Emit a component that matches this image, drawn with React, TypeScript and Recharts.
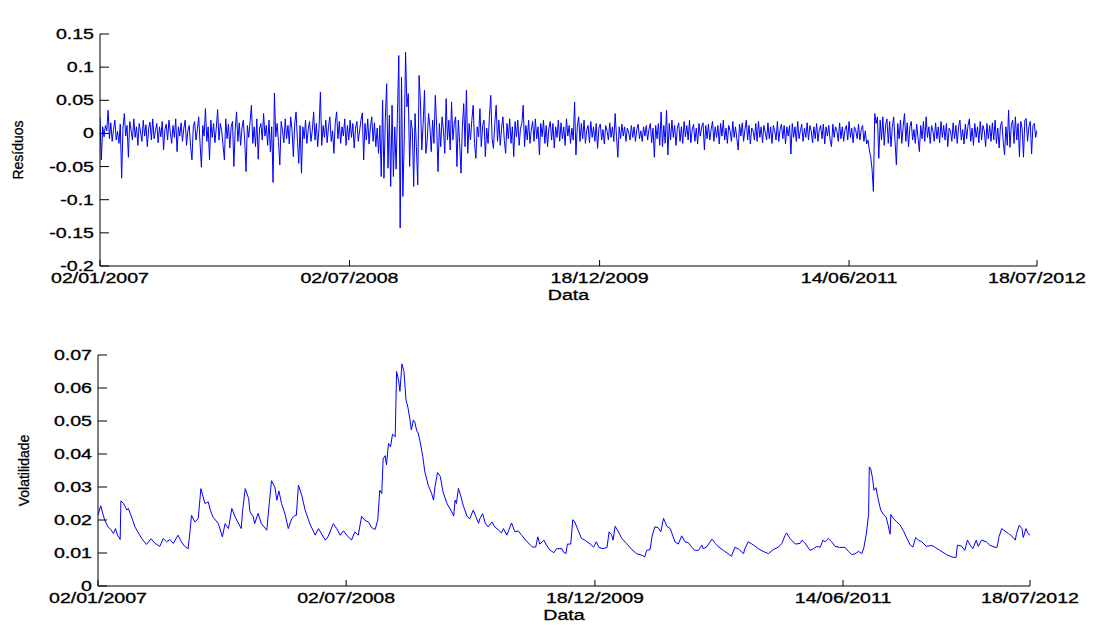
import { Label, Line, LineChart, XAxis, YAxis } from 'recharts'

// Texto no estilo das figuras do MATLAB: Helvetica esticada na horizontal.
const FONT = "'Liberation Sans', Arial, Helvetica, sans-serif"
const STRETCH = 1.4
const BLUE = '#0000ff'

// Eixo x em dias úteis (índice da observação), rótulos em datas.
const dateTicks = [0, 369, 739, 1108, 1386]
const dateLabels = ['02/01/2007', '02/07/2008', '18/12/2009', '14/06/2011', '18/07/2012']

const residTicks = [-0.2, -0.15, -0.1, -0.05, 0, 0.05, 0.1, 0.15]
const volTicks = [0, 0.01, 0.02, 0.03, 0.04, 0.05, 0.06, 0.07]

// Resíduos filtrados, um valor a cada 2 dias úteis.
const residStep = 2
const residValues = [
  0.024, -0.04, 0.01, -0.005, 0.012, 0.004, 0.035, -0.008, 0.016, -0.012,
  0.006, 0.02, -0.01, 0.003, -0.015, 0.014, -0.0675, 0.008, 0.03, -0.004,
  0.012, -0.036, 0.018, 0.005, -0.01, 0.022, -0.006, 0.01, -0.018, 0.015,
  0.002, -0.012, 0.02, -0.004, 0.013, -0.02, 0.008, 0.017, -0.01, 0.022,
  -0.008, 0.004, 0.015, -0.014, 0.01, -0.005, 0.018, -0.025, 0.006, 0.014,
  -0.01, 0.02, 0.002, -0.015, 0.012, -0.006, 0.022, -0.0275, 0.01, -0.004,
  0.016, -0.012, 0.008, 0.02, -0.018, 0.004, 0.012, -0.02, -0.04, 0.01,
  0.018, -0.01, 0.006, 0.025, -0.015, -0.051, 0.012, -0.004, 0.0375, -0.012,
  0.01, -0.04, 0.02, -0.006, 0.015, -0.014, 0.008, 0.036, -0.01, 0.015,
  0.004, -0.018, -0.04, 0.022, -0.008, 0.014, -0.022, 0.01, 0.018, -0.05,
  0.006, 0.0325, -0.012, 0.016, -0.018, 0.008, 0.02, -0.01, -0.0575, 0.012,
  -0.006, 0.018, 0.0425, -0.015, 0.01, -0.02, 0.022, -0.039, 0.008, 0.015,
  -0.01, 0.03, -0.004, 0.012, -0.018, 0.02, -0.0275, 0.01, -0.074, 0.061,
  -0.005, 0.015, -0.012, -0.0475, 0.018, 0.004, -0.014, 0.022, -0.008, 0.012,
  -0.016, 0.025, 0.006, -0.035, 0.014, 0.0325, -0.01, -0.045, 0.012, -0.06,
  0.01, -0.008, 0.02, -0.015, 0.006, 0.018, -0.012, 0.004, 0.0325, -0.01,
  0.015, -0.02, 0.008, 0.0625, -0.018, 0.012, -0.006, 0.02, -0.014, 0.01,
  0.025, -0.012, 0.004, -0.03, 0.016, 0.0325, -0.008, 0.018, -0.015, 0.01,
  -0.004, 0.022, -0.018, 0.012, -0.01, 0.02, -0.006, 0.015, -0.022, 0.008,
  0.018, -0.012, 0.004, 0.02, 0.031, -0.04, 0.015, -0.01, 0.022, -0.016,
  0.01, 0.025, -0.012, 0.016, -0.02, 0.008, -0.03, 0.012, -0.065, 0.05,
  -0.0675, 0.02, 0.075, -0.0525, 0.0275, -0.08, 0.0425, -0.065, 0.01, -0.054,
  0.03, 0.1175, -0.1425, 0.085, -0.095, -0.01, 0.1225, 0.04, 0.06, -0.05,
  0.02, 0.005, -0.08, 0.03, -0.02, -0.0775, 0.0875, 0.0475, -0.025, 0.015,
  0.065, -0.03, -0.01, 0.03, 0.01, -0.0275, 0.02, -0.015, 0.0575, 0.01,
  -0.0575, 0.015, -0.02, 0.025, 0.005, -0.03, 0.0525, -0.01, 0.02, -0.025,
  0.0475, -0.01, 0.015, 0.025, -0.05, 0.02, -0.015, -0.06, 0.01, 0.045,
  -0.02, 0.065, -0.03, 0.015, -0.01, 0.02, 0.0425, -0.015, -0.0375, 0.01,
  -0.005, 0.0375, -0.02, 0.012, 0.02, -0.035, 0.008, -0.015, 0.025, 0.0575,
  -0.008, -0.0225, 0.015, 0.0425, -0.012, 0.02, -0.018, 0.008, 0.025, -0.01,
  -0.03, 0.015, -0.008, 0.022, -0.015, 0.01, -0.035, 0.018, -0.005, 0.02,
  -0.018, 0.008, 0.015, 0.0425, -0.02, 0.012, -0.01, 0.02, -0.015, 0.006,
  0.018, -0.012, 0.022, -0.008, 0.01, -0.0325, 0.015, -0.005, 0.02, -0.015,
  0.012, -0.02, 0.008, 0.018, -0.01, 0.015, -0.022, 0.01, -0.006, 0.02,
  -0.012, 0.016, -0.008, 0.01, -0.018, 0.022, -0.004, 0.012, -0.015, 0.008,
  -0.01, 0.0475, -0.0325, 0.01, 0.025, -0.012, 0.015, -0.008, 0.02, -0.015,
  0.005, 0.012, -0.014, 0.018, -0.006, 0.01, -0.012, 0.015, -0.0225, 0.008,
  0.014, -0.01, 0.006, -0.016, 0.012, 0.004, -0.01, 0.016, -0.006, 0.01,
  -0.012, 0.03, -0.005, -0.036, 0.01, -0.008, 0.014, -0.004, 0.01, -0.012,
  0.008, 0.002, -0.01, 0.012, -0.006, 0.01, -0.012, 0.006, 0.014, -0.008,
  0.004, -0.012, 0.01, -0.004, 0.012, -0.01, 0.006, 0.015, -0.014, 0.008,
  -0.036, 0.012, -0.008, 0.015, -0.018, 0.0325, -0.02, 0.012, -0.015, 0.035,
  -0.0325, 0.015, -0.01, 0.02, -0.006, 0.012, -0.018, 0.008, 0.016, -0.012,
  0.01, -0.015, 0.018, -0.005, 0.012, -0.01, 0.02, -0.014, 0.006, 0.014,
  -0.012, 0.008, -0.016, 0.015, -0.004, 0.01, 0.016, -0.025, 0.012, -0.008,
  0.014, -0.01, 0.006, 0.018, -0.012, 0.01, -0.006, 0.012, -0.016, 0.015,
  -0.004, 0.02, -0.01, 0.008, -0.015, 0.012, 0.004, -0.012, 0.018, -0.006,
  0.01, -0.008, -0.025, 0.014, -0.004, 0.016, -0.012, 0.006, 0.02, -0.01,
  0.012, -0.016, 0.008, 0.004, -0.01, 0.015, -0.012, 0.018, -0.006, 0.01,
  -0.014, 0.012, 0.002, -0.01, 0.016, -0.008, 0.01, -0.015, 0.012, 0.004,
  -0.01, 0.018, -0.012, 0.006, 0.014, -0.008, 0.012, -0.016, 0.01, -0.004,
  0.012, -0.031, 0.015, -0.006, 0.01, -0.012, 0.018, -0.008, 0.004, 0.014,
  -0.012, 0.008, -0.006, 0.016, -0.01, 0.012, 0.004, -0.014, 0.01, -0.008,
  0.015, -0.012, 0.006, 0.012, -0.008, 0.014, -0.016, 0.01, -0.004, 0.012,
  -0.01, -0.02, 0.014, -0.006, 0.01, 0.004, -0.012, 0.016, -0.008, 0.01,
  -0.012, 0.006, 0.012, -0.01, 0.018, -0.006, 0.008, -0.014, 0.01, 0.004,
  -0.008, 0.014, -0.01, 0.006, 0.012, -0.012, 0.004, -0.016, -0.01, -0.025,
  -0.035, -0.054, -0.0875, 0.03, 0.015, 0.025, -0.0375, 0.02, -0.01, 0.025,
  -0.018, 0.012, 0.022, -0.015, 0.018, -0.02, 0.01, 0.025, -0.012, -0.0475,
  0.015, -0.008, 0.02, -0.015, 0.01, 0.03, -0.012, 0.016, -0.02, 0.01,
  0.018, -0.01, 0.006, -0.015, 0.014, -0.006, -0.0275, 0.012, -0.008, 0.018,
  -0.012, 0.025, -0.006, 0.01, -0.015, 0.012, 0.004, -0.012, 0.016, -0.008,
  0.01, -0.014, 0.018, -0.006, 0.012, -0.01, 0.015, -0.02, 0.008, 0.004,
  -0.012, 0.016, -0.008, 0.012, -0.015, 0.01, 0.02, -0.01, 0.006, -0.016,
  0.014, -0.008, 0.012, 0.022, -0.012, 0.008, -0.018, 0.015, -0.006, 0.01,
  -0.014, 0.018, -0.01, 0.012, 0.004, -0.02, 0.015, -0.008, 0.012, -0.012,
  0.016, -0.01, 0.02, -0.015, 0.008, -0.022, 0.012, 0.018, -0.012, -0.0325,
  0.01, -0.018, 0.035, -0.021, 0.012, 0.02, -0.015, 0.025, -0.01, 0.015,
  -0.035, 0.018, 0.008, -0.036, 0.02, 0.0225, -0.012, 0.01, 0.018, -0.031,
  0.012, 0.015, -0.006, 0.005,
]

// Desvio padrão condicional: dia útil e valor de cada vértice.
const volDays = [
  0, 4, 10, 15, 19, 23, 26, 29, 33, 34, 38, 43, 45, 50, 55, 60, 65, 72, 79, 85,
  92, 97, 102, 107, 112, 119, 124, 129, 134, 137, 139, 144, 149, 153, 159, 164, 167, 171, 179, 185,
  189, 194, 199, 204, 213, 215, 219, 224, 226, 231, 233, 238, 243, 251, 253, 258, 263, 266, 269, 273,
  278, 283, 288, 293, 295, 298, 303, 308, 315, 323, 328, 338, 342, 350, 355, 360, 365, 370, 377, 382,
  387, 392, 397, 402, 407, 412, 416, 419, 422, 424, 427, 429, 432, 435, 438, 442, 444, 447, 449, 452,
  455, 458, 461, 464, 466, 469, 471, 474, 476, 479, 483, 486, 491, 496, 499, 501, 505, 509, 513, 519,
  526, 529, 531, 533, 536, 539, 543, 549, 553, 558, 562, 566, 568, 572, 576, 580, 586, 590, 595, 600,
  603, 608, 615, 620, 625, 630, 638, 646, 651, 654, 657, 663, 667, 672, 678, 682, 690, 692, 696, 698,
  703, 706, 709, 714, 719, 724, 732, 737, 741, 745, 751, 757, 760, 764, 766, 769, 774, 779, 786, 794,
  801, 809, 813, 816, 821, 824, 828, 833, 837, 841, 846, 851, 858, 863, 868, 873, 878, 883, 888, 893,
  898, 900, 905, 913, 918, 922, 930, 937, 942, 947, 952, 960, 962, 967, 975, 982, 989, 997, 1004, 1012,
  1017, 1022, 1024, 1029, 1037, 1044, 1047, 1051, 1059, 1064, 1069, 1074, 1078, 1081, 1086, 1091, 1096, 1103, 1111, 1116,
  1121, 1126, 1131, 1136, 1139, 1143, 1146, 1147, 1149, 1152, 1154, 1157, 1160, 1164, 1168, 1172, 1175, 1178, 1179, 1183,
  1188, 1193, 1198, 1203, 1208, 1212, 1216, 1220, 1225, 1232, 1240, 1245, 1252, 1262, 1270, 1276, 1278, 1284, 1289, 1293,
  1297, 1301, 1306, 1309, 1314, 1321, 1326, 1334, 1337, 1340, 1344, 1349, 1354, 1359, 1364, 1366, 1370, 1374, 1376, 1380,
  1383, 1386,
]
const volValues = [
  0.0215, 0.0243, 0.0199, 0.0179, 0.0171, 0.0159, 0.0174, 0.0154, 0.0141, 0.0258, 0.025, 0.023, 0.0235, 0.0209, 0.0179, 0.0161, 0.0144, 0.0126, 0.0143, 0.0129,
  0.012, 0.0144, 0.0134, 0.0141, 0.0129, 0.0154, 0.0134, 0.012, 0.0113, 0.0169, 0.0214, 0.0194, 0.0204, 0.0295, 0.025, 0.0255, 0.023, 0.0209, 0.0189, 0.0149,
  0.0189, 0.0174, 0.0235, 0.0209, 0.0174, 0.0228, 0.0295, 0.0265, 0.0225, 0.0209, 0.0189, 0.022, 0.0189, 0.0169, 0.0214, 0.0319, 0.03, 0.026, 0.0288, 0.025,
  0.0219, 0.0174, 0.0204, 0.0214, 0.0214, 0.0306, 0.0275, 0.023, 0.0189, 0.0154, 0.0174, 0.0139, 0.0149, 0.0189, 0.0174, 0.0154, 0.0167, 0.0154, 0.0139, 0.0164,
  0.0154, 0.0211, 0.0199, 0.0194, 0.0177, 0.0171, 0.0199, 0.029, 0.028, 0.0385, 0.0395, 0.0367, 0.0432, 0.0422, 0.046, 0.0452, 0.065, 0.0624, 0.059, 0.0673,
  0.065, 0.0564, 0.054, 0.0503, 0.0473, 0.0503, 0.0498, 0.047, 0.0464, 0.0437, 0.0392, 0.0346, 0.0306, 0.0281, 0.026, 0.03, 0.0344, 0.0332, 0.0286, 0.025,
  0.0225, 0.0212, 0.026, 0.025, 0.0296, 0.0276, 0.0245, 0.021, 0.0204, 0.023, 0.021, 0.019, 0.0205, 0.0219, 0.019, 0.0179, 0.0194, 0.0179, 0.0171, 0.0161,
  0.0174, 0.0154, 0.0191, 0.0164, 0.0167, 0.0154, 0.0134, 0.0118, 0.0118, 0.0149, 0.0127, 0.0139, 0.0124, 0.0109, 0.0101, 0.0113, 0.0113, 0.0103, 0.0098, 0.0127,
  0.0127, 0.0201, 0.0194, 0.0169, 0.0144, 0.0139, 0.0127, 0.0118, 0.0134, 0.0117, 0.0113, 0.0117, 0.0164, 0.0154, 0.0139, 0.0181, 0.0164, 0.0144, 0.0129, 0.011,
  0.0098, 0.0093, 0.0088, 0.0108, 0.011, 0.0151, 0.0179, 0.0177, 0.0164, 0.0205, 0.0181, 0.0174, 0.0134, 0.0127, 0.0152, 0.0134, 0.0131, 0.0117, 0.0108, 0.0108,
  0.0124, 0.0113, 0.0118, 0.0142, 0.0129, 0.012, 0.0108, 0.0098, 0.009, 0.0117, 0.0113, 0.0098, 0.0113, 0.0134, 0.0124, 0.0113, 0.0105, 0.0098, 0.011, 0.0118,
  0.0129, 0.0154, 0.0161, 0.0144, 0.0127, 0.0129, 0.0139, 0.0131, 0.0108, 0.0113, 0.012, 0.0117, 0.0139, 0.0134, 0.0144, 0.0134, 0.012, 0.0117, 0.0117, 0.0105,
  0.0095, 0.0098, 0.0105, 0.0098, 0.0117, 0.0164, 0.0219, 0.0361, 0.0356, 0.0325, 0.029, 0.0298, 0.0265, 0.023, 0.0217, 0.0209, 0.0184, 0.0157, 0.0217, 0.0204,
  0.0194, 0.0184, 0.0166, 0.0144, 0.0124, 0.0118, 0.0147, 0.0139, 0.0134, 0.012, 0.0123, 0.0117, 0.0108, 0.0095, 0.0088, 0.0086, 0.0124, 0.0121, 0.0108, 0.0139,
  0.0124, 0.0113, 0.0139, 0.012, 0.0139, 0.0134, 0.0124, 0.0117, 0.0117, 0.015, 0.0174, 0.0166, 0.0159, 0.0151, 0.0139, 0.0159, 0.0184, 0.0174, 0.0147, 0.0174,
  0.0159, 0.0154,
]

const residData = residValues.map((v, i) => ({ day: i * residStep, v }))
const volData = volDays.map((day, i) => ({ day, v: volValues[i] }))

function Txt({ x, y, anchor = 'middle', sx = STRETCH, rotate = false, children }: any) {
  const transform = `translate(${x},${y}) scale(${sx},1)` + (rotate ? ' rotate(-90)' : '')
  return (
    <text
      transform={transform}
      textAnchor={anchor}
      fontFamily={FONT}
      fontSize={14}
      fill="#000"
      stroke="#000"
      strokeWidth={0.3}
    >
      {children}
    </text>
  )
}

interface PanelProps {
  data: { day: number; v: number }[]
  yTicks: number[]
  title: string
  yLabel: string
  yLabelX: number
  height: number
  margin: { top: number; right: number; bottom: number; left: number }
}

// Um subplot: caixa fechada, marcas para dentro nos quatro lados.
function Panel({ data, yTicks, title, yLabel, yLabelX, height, margin }: PanelProps) {
  const yDomain = [yTicks[0], yTicks[yTicks.length - 1]]
  const xDomain = [dateTicks[0], dateTicks[dateTicks.length - 1]]
  return (
    <LineChart width={1095} height={height} data={data} margin={margin}>
      <XAxis
        xAxisId="b"
        dataKey="day"
        type="number"
        domain={xDomain}
        ticks={dateTicks}
        interval={0}
        allowDataOverflow
        height={30}
        stroke="#000"
        tickSize={-6}
        tickMargin={6}
        tick={({ x, y, payload }: any) => (
          <Txt x={x} y={y + 17}>
            {dateLabels[dateTicks.indexOf(payload.value)]}
          </Txt>
        )}
      >
        <Label
          content={({ viewBox }: any) => (
            <Txt x={viewBox.x + viewBox.width / 2} y={viewBox.y + 34}>
              Data
            </Txt>
          )}
        />
      </XAxis>
      <XAxis
        xAxisId="t"
        orientation="top"
        type="number"
        domain={xDomain}
        ticks={dateTicks}
        interval={0}
        allowDataOverflow
        height={0}
        stroke="#000"
        tickSize={-6}
        tick={() => null}
      >
        <Label
          content={({ viewBox }: any) => (
            <Txt x={viewBox.x + viewBox.width / 2} y={viewBox.y + viewBox.height - 11}>
              {title}
            </Txt>
          )}
        />
      </XAxis>
      <YAxis
        yAxisId="l"
        type="number"
        domain={yDomain}
        ticks={yTicks}
        interval={0}
        allowDataOverflow
        width={60}
        stroke="#000"
        tickSize={-9}
        tickMargin={15}
        tick={({ x, y, payload }: any) => (
          <Txt x={x} y={y + 5} anchor="end">
            {String(payload.value)}
          </Txt>
        )}
      >
        <Label
          content={({ viewBox }: any) => (
            <Txt x={yLabelX} y={viewBox.y + viewBox.height / 2} sx={1} rotate>
              {yLabel}
            </Txt>
          )}
        />
      </YAxis>
      <YAxis
        yAxisId="r"
        orientation="right"
        type="number"
        domain={yDomain}
        ticks={yTicks}
        interval={0}
        allowDataOverflow
        width={0}
        stroke="#000"
        tickSize={-9}
        tick={() => null}
      />
      <Line
        xAxisId="b"
        yAxisId="l"
        type="linear"
        dataKey="v"
        stroke={BLUE}
        strokeWidth={1}
        dot={false}
        activeDot={false}
        isAnimationActive={false}
      />
    </LineChart>
  )
}

export default function App() {
  return (
    <div style={{ position: 'absolute', left: 0, top: 0, width: 1095, height: 625, background: '#fff' }}>
      <div style={{ position: 'absolute', left: 0, top: 0 }}>
        <Panel
          data={residData}
          yTicks={residTicks}
          title="Resíduos Filtrados"
          yLabel="Resíduos"
          yLabelX={23}
          height={310}
          margin={{ top: 34, right: 58, bottom: 14, left: 40 }}
        />
      </div>
      <div style={{ position: 'absolute', left: 0, top: 310 }}>
        <Panel
          data={volData}
          yTicks={volTicks}
          title="Desvio padrão condicional filtrado"
          yLabel="Volatilidade"
          yLabelX={29}
          height={315}
          margin={{ top: 45, right: 65, bottom: 9, left: 38 }}
        />
      </div>
    </div>
  )
}
